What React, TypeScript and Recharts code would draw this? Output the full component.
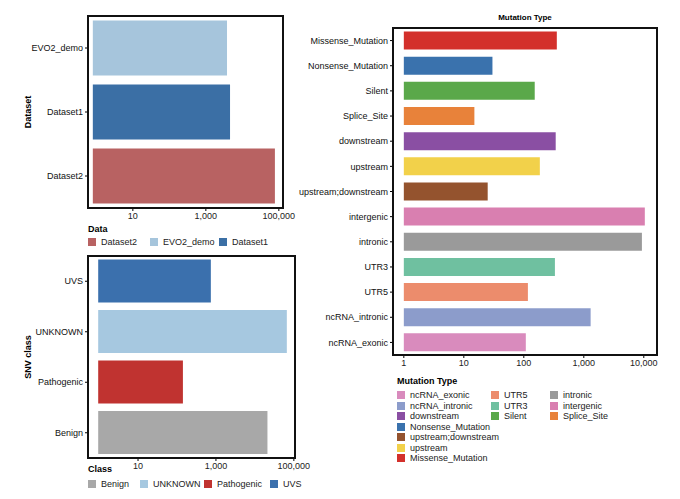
import { Bar, BarChart, Cell, XAxis, YAxis } from "recharts";

const datasetNames = ["EVO2_demo", "Dataset1", "Dataset2"];
const datasetCounts = [3800, 4600, 78000];
const datasetColors = ["#a6c5dc", "#3b6fa5", "#b86262"];

const classNames = ["UVS", "UNKNOWN", "Pathogenic", "Benign"];
const classCounts = [740, 66000, 142, 21000];
const classColors = ["#3b70ad", "#a6c8e0", "#c03330", "#a8a8a8"];

const mutationNames = [
  "Missense_Mutation", "Nonsense_Mutation", "Silent", "Splice_Site", "downstream", "upstream",
  "upstream;downstream", "intergenic", "intronic", "UTR3", "UTR5", "ncRNA_intronic", "ncRNA_exonic",
];
const mutationCounts = [355, 30, 152, 15, 340, 185, 25, 10400, 9300, 330, 117, 1300, 108];
const mutationColors = [
  "#d3302b", "#3a72ad", "#5aa84a", "#e8823a", "#8a4fa3", "#f2d14a", "#94532e",
  "#d97fb0", "#9a9a9a", "#6fc0a0", "#ec8c6c", "#8c9ccb", "#d98bbd",
];

const datasetLegend = ["Dataset2", "EVO2_demo", "Dataset1"];
const classLegend = ["Benign", "UNKNOWN", "Pathogenic", "UVS"];
const mutationLegend = [
  ["ncRNA_exonic", "ncRNA_intronic", "downstream", "Nonsense_Mutation", "upstream;downstream", "upstream", "Missense_Mutation"],
  ["UTR5", "UTR3", "Silent"],
  ["intronic", "intergenic", "Splice_Site"],
];

const font = "'Liberation Sans', Arial, sans-serif";
const fmt = (v: number) => v.toLocaleString("en-US");

function Panel({ names, counts, colors, left, top, yw, pw, ph, domain, ticks, base, gap, label }: {
  names: string[]; counts: number[]; colors: string[]; left: number; top: number; yw: number;
  pw: number; ph: number; domain: [number, number]; ticks: number[]; base: number; gap: string; label?: string;
}) {
  const data = names.map((n, i) => ({ name: n, range: [base, counts[i]] }));
  return (
    <>
      <div style={{ position: "absolute", left, top: top - 2 }}>
        <BarChart layout="vertical" width={yw + pw + 24} height={ph + 22} data={data}
          margin={{ top: 2, right: 24, bottom: 0, left: 0 }} barCategoryGap={gap}>
          <XAxis type="number" dataKey="range" scale="log" domain={domain} ticks={ticks} tickFormatter={fmt}
            allowDataOverflow axisLine={false} tickLine={{ stroke: "#000" }} tickSize={3} height={20}
            tick={{ fontSize: 9, fill: "#222", fontFamily: font }} />
          <YAxis type="category" dataKey="name" width={yw} axisLine={false} tickLine={{ stroke: "#000" }} tickSize={3}
            tick={{ fontSize: 9, fill: "#111", fontFamily: font }} interval={0} />
          <Bar dataKey="range" isAnimationActive={false}>
            {names.map((n, i) => <Cell key={n} fill={colors[i]} />)}
          </Bar>
        </BarChart>
      </div>
      <div style={{ position: "absolute", left: left + yw - 1, top: top - 1, width: pw + 2, height: ph + 2,
        border: "2px solid #111", boxSizing: "border-box", pointerEvents: "none" }} />
      {label && (
        <div style={{ position: "absolute", left: 28, top: top + ph / 2, transform: "translate(-50%,-50%) rotate(-90deg)",
          fontSize: 9, fontWeight: "bold", fontFamily: font, whiteSpace: "nowrap" }}>{label}</div>
      )}
    </>
  );
}

function Item({ name, color, x, y }: { name: string; color: string; x: number; y: number }) {
  return (
    <div style={{ position: "absolute", left: x, top: y, display: "flex", alignItems: "center", fontSize: 9,
      fontFamily: font, color: "#222", whiteSpace: "nowrap" }}>
      <span style={{ width: 8, height: 8, background: color, marginRight: 5, display: "inline-block" }} />
      {name}
    </div>
  );
}

const title = (t: string, x: number, y: number) => (
  <div style={{ position: "absolute", left: x, top: y, fontSize: 9, fontWeight: "bold", fontFamily: font }}>{t}</div>
);

export default function App() {
  const colorOf = (n: string) => mutationColors[mutationNames.indexOf(n)];
  return (
    <div style={{ position: "absolute", left: 0, top: 0, width: 680, height: 499, background: "#fff" }}>
      <Panel names={datasetNames} counts={datasetCounts} colors={datasetColors} left={0} top={16} yw={88} pw={195} ph={192}
        domain={[0.59, 130000]} ticks={[10, 1000, 100000]} base={0.8} gap="7%" label="Dataset" />
      {title("Data", 88, 224)}
      {datasetLegend.map((n, i) => (
        <Item key={n} name={n} color={datasetColors[datasetNames.indexOf(n)]} x={88 + [0, 62, 131][i]} y={237} />
      ))}
      <Panel names={classNames} counts={classCounts} colors={classColors} left={0} top={256} yw={88} pw={207} ph={202}
        domain={[0.52, 107000]} ticks={[10, 1000, 100000]} base={0.95} gap="7%" label="SNV class" />
      {title("Class", 88, 464)}
      {classLegend.map((n, i) => (
        <Item key={n} name={n} color={classColors[classNames.indexOf(n)]} x={88 + [0, 52, 116, 182][i]} y={479} />
      ))}
      <div style={{ position: "absolute", left: 393, width: 264, top: 13, textAlign: "center", fontSize: 8,
        fontWeight: "bold", fontFamily: font }}>Mutation Type</div>
      <Panel names={mutationNames} counts={mutationCounts} colors={mutationColors} left={0} top={28} yw={393} pw={264} ph={327}
        domain={[0.66, 16600]} ticks={[1, 10, 100, 1000, 10000]} base={1} gap="14%" />
      {title("Mutation Type", 397, 376)}
      {mutationLegend.map((col, c) =>
        col.map((n, r) => <Item key={n} name={n} color={colorOf(n)} x={[397, 491, 550][c]} y={390 + r * 10.5} />)
      )}
    </div>
  );
}
